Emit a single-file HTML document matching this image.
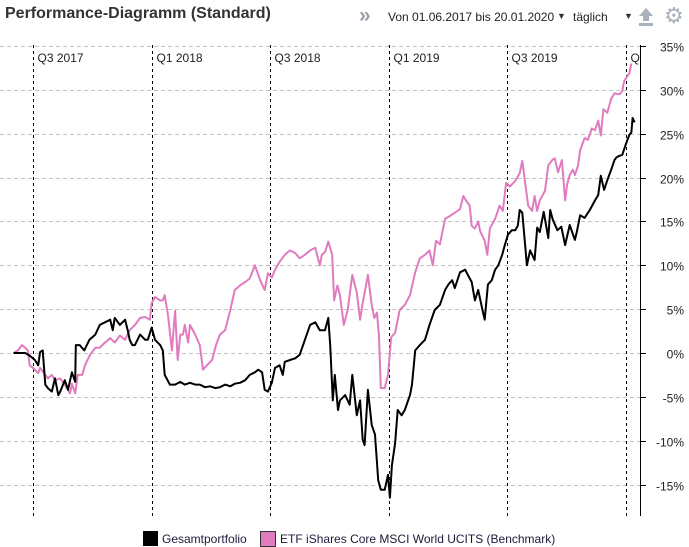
<!DOCTYPE html>
<html><head><meta charset="utf-8">
<style>
html,body{margin:0;padding:0;background:#fff;width:689px;height:547px;overflow:hidden;font-family:"Liberation Sans",sans-serif;}
#hdr{position:absolute;left:0;top:0;width:689px;height:34px;}
.t{position:absolute;white-space:nowrap;}
</style></head><body>
<div id="hdr">
  <div class="t" style="left:5px;top:5px;font-size:16px;font-weight:bold;color:#333;">Performance-Diagramm (Standard)</div>
  <div class="t" style="left:359px;top:4px;font-size:21px;font-weight:bold;color:#9aa3ad;">»</div>
  <div class="t" style="left:388px;top:10px;font-size:12px;color:#222;">Von 01.06.2017 bis 20.01.2020</div>
  <div class="t" style="left:557px;top:11px;font-size:9px;color:#333;">▼</div>
  <div class="t" style="left:573px;top:10px;font-size:12px;color:#222;">täglich</div>
  <div class="t" style="left:624px;top:11px;font-size:9px;color:#333;">▼</div>
  <svg class="t" style="left:638px;top:7px;" width="16" height="20"><path d="M8 1 L15 9 L11 9 L11 14 L5 14 L5 9 L1 9 Z" fill="#a9b1ba"/><rect x="1" y="16" width="14" height="3" fill="#a9b1ba"/></svg>
  <div class="t" style="left:664px;top:3px;font-size:22px;color:#a9b1ba;">⚙</div>
</div>
<svg id="chart" width="689" height="547" style="position:absolute;left:0;top:0;"></svg>
<div class="t" style="left:143px;top:531px;font-size:12px;color:#1b1b3a;">
  <span><span style="display:inline-block;width:15px;height:15px;background:#000;vertical-align:-3px;margin-right:4px;"></span>Gesamtportfolio</span>
  <span style="margin-left:10px;"><span style="display:inline-block;width:14px;height:14px;background:#e07bbf;border:1px solid #333;vertical-align:-4px;margin-right:4px;"></span>ETF iShares Core MSCI World UCITS (Benchmark)</span>
</div>
<script>
const yTicks=[35,30,25,20,15,10,5,0,-5,-10,-15];
const quarterDays=[30,214,395,579,760,944];
const quarterLabels=["Q3 2017","Q1 2018","Q3 2018","Q1 2019","Q3 2019","Q1 2020"];
const portDays=[0,18,25,33,38,41,45,49,53,59,64,69,72,79,84,90,95,96,102,109,117,126,133,141,149,153,156,164,172,176,179,183,187,195,203,207,213,218,226,230,233,241,249,257,264,272,280,287,295,303,311,318,326,334,341,349,357,364,372,377,383,387,392,398,403,410,415,418,426,434,441,449,457,465,472,480,485,488,492,495,500,503,511,518,522,529,534,538,541,546,552,557,562,566,572,577,580,583,588,592,598,603,611,614,619,626,634,641,649,657,665,670,676,680,688,696,700,706,711,716,722,726,731,737,742,747,753,757,762,768,773,777,780,784,791,796,803,807,811,817,824,827,831,838,844,850,857,865,868,873,880,888,896,901,905,910,915,921,926,929,934,938,943,949,952,954,957];
const portValues=[0,0,-0.3,-0.8,-1.4,0.1,0.3,-3.6,-4.0,-4.4,-2.9,-4.8,-4.4,-3.1,-4.2,-2.2,-3.3,0.9,0.9,0.3,1.5,2.1,3.2,3.5,3.8,2.6,4.0,3.2,3.8,2.6,1.5,0.9,0.9,2.1,1.5,1.5,2.9,1.5,0.9,0.3,-2.5,-3.6,-3.6,-3.3,-3.6,-3.4,-3.6,-3.6,-3.9,-3.8,-4.0,-3.9,-3.6,-3.8,-3.5,-3.4,-3.1,-2.5,-2.2,-1.9,-2.2,-4.2,-4.4,-3.4,-1.7,-1.4,-2.5,-1.0,-0.8,-0.6,-0.2,1.5,3.2,3.5,2.6,2.6,4.0,0.9,-5.4,-2.5,-6.5,-5.4,-4.8,-5.9,-2.5,-7.1,-5.4,-9.9,-10.5,-4.2,-8.2,-9.3,-14.5,-15.6,-15.6,-13.9,-16.5,-12.8,-10.3,-6.5,-7.1,-6.5,-4.8,-3.6,0.3,0.9,1.5,3.2,4.9,5.5,7.2,7.8,8.3,7.4,9.2,9.5,8.9,8.1,6.0,7.2,5.1,3.8,7.8,8.3,9.5,10.0,11.2,12.3,13.5,14.0,14.0,14.5,16.3,16.0,10.0,11.7,10.6,14.3,13.8,16.1,13.1,16.3,15.2,14.0,14.4,12.3,14.6,12.9,13.8,15.7,15.4,16.3,17.4,18.0,20.2,18.6,19.7,20.9,22.0,22.3,22.5,22.6,23.7,24.9,25.1,26.8,26.3];
const benchDays=[0,7,13,18,22,25,33,38,41,49,53,59,64,72,79,87,90,95,99,106,110,118,126,133,141,149,156,164,172,179,187,195,203,210,213,218,226,230,233,238,244,249,253,257,261,264,269,272,280,287,292,298,306,312,318,326,334,341,349,357,364,372,380,387,392,398,403,410,418,426,434,441,449,457,465,472,475,480,485,491,494,499,503,509,515,522,529,534,538,546,552,556,560,563,566,572,577,582,588,595,603,611,619,626,634,641,646,651,657,665,672,680,688,693,697,703,706,711,716,719,726,730,734,742,749,754,759,765,773,780,784,788,793,799,803,807,811,819,824,830,834,839,845,850,853,857,862,865,870,873,880,885,891,896,901,905,909,915,921,926,934,938,941,946,949,952];
const benchValues=[0,0.3,0.9,0.6,0.3,-1.4,-1.9,-2.3,-1.7,-2.5,-2.9,-2.5,-3.1,-2.9,-3.6,-4.6,-3.5,-4.6,-2.5,-2.5,-1.4,-0.2,0.6,0.6,1.2,1.7,1.2,2.0,1.5,2.6,3.2,4.0,4.1,3.8,5.7,6.4,6.0,6.0,6.6,4.3,0.3,4.8,-0.8,2.1,2.1,3.2,1.2,3.2,2.1,0.9,-1.9,-1.4,-0.8,0.9,2.1,2.6,4.9,7.2,7.7,8.1,8.5,10.0,8.3,7.2,9.1,8.6,9.5,10.4,11.2,11.7,11.4,10.8,11.2,11.7,12.0,10.0,11.2,11.5,12.7,11.2,6.0,7.7,6.6,3.2,4.9,8.9,6.9,3.8,5.7,8.9,5.5,4.0,4.6,2.1,-4.0,-4.0,-2.5,1.8,2.3,4.9,5.5,6.6,9.2,10.8,11.2,11.7,10.0,12.8,12.4,15.3,15.6,16.0,16.4,17.9,17.4,16.8,14.5,14.2,15.0,13.9,12.8,11.2,14.2,15.3,16.8,16.2,19.4,19.0,19.6,20.5,21.9,19.6,16.8,16.2,17.9,16.2,17.4,18.5,21.4,22.0,22.2,20.6,22.0,17.4,19.2,20.3,20.9,20.3,21.4,23.1,24.5,24.3,25.6,25.4,26.5,24.8,27.8,27.4,29.0,29.6,29.5,29.9,31.0,31.6,31.9,33.0];

const NS="http://www.w3.org/2000/svg";
const svg=document.getElementById('chart');
const X0=13.5, PXD=0.649, Y0=353, PXV=8.77, AXIS=640, TOP=45, BOT=516;
function xs(d){return X0+d*PXD;}
function ys(v){return Y0-v*PXV;}
function mk(tag,attrs){const e=document.createElementNS(NS,tag);for(const k in attrs)e.setAttribute(k,attrs[k]);svg.appendChild(e);return e;}

const cp=mk('clipPath',{id:'qclip'});
const cr=document.createElementNS(NS,'rect');cr.setAttribute('x',0);cr.setAttribute('y',0);cr.setAttribute('width',AXIS);cr.setAttribute('height',547);cp.appendChild(cr);

yTicks.forEach(v=>{
  const y=Math.round(ys(v))+0.5;
  const g=mk('line',{x1:0,x2:AXIS,y1:y,y2:y,stroke:'#c4c4c4','stroke-dasharray':'4,3','stroke-width':1});
  
  
  const tk=mk('line',{x1:AXIS,x2:AXIS+6,y1:y,y2:y,stroke:'#000'});
  
  
  const t=mk('text',{x:684,y:y+5,'text-anchor':'end','font-size':12,fill:'#222','font-family':'Liberation Sans, sans-serif'});
  t.textContent=v+'%';
  
  
});
quarterDays.forEach((d,i)=>{
  const x=Math.round(xs(d))+0.5;
  const l=mk('line',{x1:x,x2:x,y1:TOP,y2:BOT,stroke:'#000','stroke-dasharray':'3,3','stroke-width':1});
  
  
  const t=mk('text',{x:x+4,y:62,'font-size':12,fill:'#222','font-family':'Liberation Sans, sans-serif','clip-path':'url(#qclip)'});
  t.textContent=quarterLabels[i];
  
  
});
const ax=mk('line',{x1:AXIS+0.5,x2:AXIS+0.5,y1:TOP,y2:BOT,stroke:'#000','stroke-width':1});



function line(days,vals,color,name){
  const pts=days.map((d,i)=>xs(d).toFixed(1)+','+ys(vals[i]).toFixed(1)).join(' ');
  const p=mk('polyline',{points:pts,fill:'none',stroke:color,'stroke-width':2,'stroke-linejoin':'round'});
  
  
}
line(benchDays,benchValues,'#e07bbf','benchmark-line');
line(portDays,portValues,'#000','portfolio-line');
</script>
</body></html>
